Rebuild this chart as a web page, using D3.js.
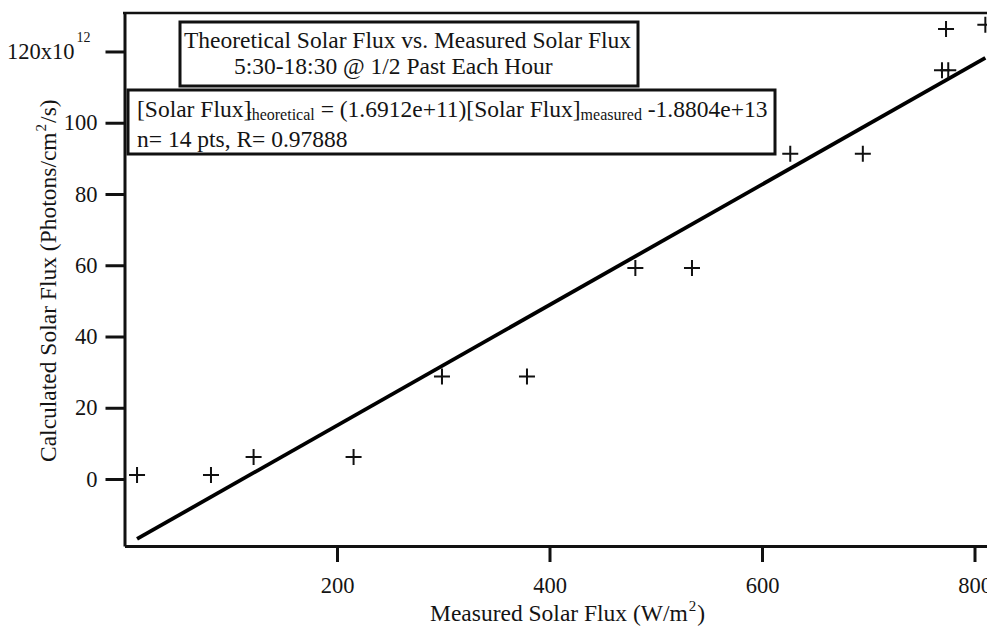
<!DOCTYPE html>
<html>
<head>
<meta charset="utf-8">
<script src="https://cdn.jsdelivr.net/npm/d3@7/dist/d3.min.js"></script>
<style>
  body { margin: 0; background: #fff; }
  svg { display: block; }
  .axis text { font-family: "Liberation Serif", "Times New Roman", serif; font-size: 22.5px; fill: #141414; }
  .axis path, .axis line { stroke: #111; }
</style>
</head>
<body>
<div id="chart"></div>
<script>
// measured solar flux (W/m^2)
const measured = [11.8, 81.4, 121.5, 215.6, 298.8, 378.8, 480.8, 534.1, 626.6, 694.9, 769.4, 775.3, 773.2, 810.2];
// calculated solar flux (x10^12 photons/cm^2/s)
const calculated = [1.1, 1.1, 6.2, 6.2, 28.8, 28.8, 59.2, 59.2, 91.3, 91.3, 114.7, 114.7, 126.3, 127.5];

const xTicks = [200, 400, 600, 800];
const yTicks = [0, 20, 40, 60, 80, 100, 120];

// linear fit from the annotation, in units of 1e12
const fitSlope = 0.16912;
const fitIntercept = -18.804;

const titleLines = ["Theoretical Solar Flux vs. Measured Solar Flux", "5:30-18:30 @ 1/2 Past Each Hour"];
const statsLine = "n= 14 pts, R= 0.97888";

const width = 987, height = 628;
const serif = '"Liberation Serif", "Times New Roman", serif';

const svg = d3.select("#chart").append("svg")
    .attr("width", width)
    .attr("height", height);

//scales
const x = d3.scaleLinear()
    .domain([0, 850])
    .range([124.5, 124.5 + 850 * 1.0625]);

const y = d3.scaleLinear()
    .domain([-18.8, 130.8])
    .range([546, 13]);

// X axis
const xAxis = svg.append("g")
    .attr("class", "axis")
    .attr("transform", `translate(0, ${y.range()[0]})`)
    .call(d3.axisBottom(x).tickValues(xTicks).tickSize(16).tickSizeOuter(0).tickPadding(15));
xAxis.select(".domain").attr("stroke-width", 3);
xAxis.selectAll(".tick line").attr("stroke-width", 3);

// Y axis
const yAxis = svg.append("g")
    .attr("class", "axis")
    .attr("transform", `translate(${x.range()[0]}, 0)`)
    .call(d3.axisLeft(y).tickValues(yTicks).tickSize(19).tickSizeOuter(0).tickPadding(8));
yAxis.select(".domain").attr("stroke-width", 3);
yAxis.selectAll(".tick line").attr("stroke-width", 3);

// top label gets the x10^12 multiplier
yAxis.selectAll(".tick text")
    .filter(d => d === 120)
    .text(null)
    .call(t => {
        t.append("tspan").text("120x10");
        t.append("tspan").attr("dx", 2).attr("dy", -17).style("font-size", "14px").text("12");
    })
    .attr("x", -34);

// top frame line
svg.append("line")
    .attr("x1", x.range()[0] - 1.5)
    .attr("x2", width)
    .attr("y1", y.range()[1])
    .attr("y2", y.range()[1])
    .attr("stroke", "#111")
    .attr("stroke-width", 2.5);

// fit line
const fitX = d3.extent(measured);
svg.append("path")
    .datum(fitX)
    .attr("fill", "none")
    .attr("stroke", "#000")
    .attr("stroke-width", 3.8)
    .attr("d", d3.line().x(d => x(d)).y(d => y(fitSlope * d + fitIntercept)));

// data crosses
svg.selectAll(".pt")
    .data(measured.map((m, i) => [m, calculated[i]]))
    .enter()
    .append("path")
    .attr("class", "pt")
    .attr("transform", d => `translate(${x(d[0])}, ${y(d[1])})`)
    .attr("d", "M-8,0H8M0,-8V8")
    .attr("stroke", "#111")
    .attr("stroke-width", 2);

// axis titles
const xTitle = svg.append("text")
    .attr("x", 430)
    .attr("y", 621)
    .style("font-family", serif)
    .style("font-size", "23.5px")
    .attr("fill", "#141414");
xTitle.append("tspan").text("Measured Solar Flux (W/m");
xTitle.append("tspan").attr("dx", 1).attr("dy", -10).style("font-size", "15px").text("2");
xTitle.append("tspan").attr("dx", 1).attr("dy", 10).text(")");

const yTitle = svg.append("text")
    .attr("transform", "translate(56, 462) rotate(-90)")
    .style("font-family", serif)
    .style("font-size", "23.5px")
    .attr("fill", "#141414");
yTitle.append("tspan").text("Calculated Solar Flux (Photons/cm");
yTitle.append("tspan").attr("dx", 1).attr("dy", -10).style("font-size", "15px").text("2");
yTitle.append("tspan").attr("dx", 1).attr("dy", 10).text("/s)");

// title box
svg.append("rect")
    .attr("x", 180).attr("y", 22)
    .attr("width", 458).attr("height", 64)
    .attr("fill", "#fff")
    .attr("stroke", "#111")
    .attr("stroke-width", 3);

svg.append("text")
    .attr("x", 184).attr("y", 48)
    .style("font-family", serif).style("font-size", "23.5px")
    .attr("fill", "#141414")
    .text(titleLines[0]);
svg.append("text")
    .attr("x", 234).attr("y", 74)
    .style("font-family", serif).style("font-size", "23.5px")
    .attr("fill", "#141414")
    .text(titleLines[1]);

// equation box
svg.append("rect")
    .attr("x", 128).attr("y", 90)
    .attr("width", 647).attr("height", 64)
    .attr("fill", "#fff")
    .attr("stroke", "#111")
    .attr("stroke-width", 3);

const eq = svg.append("text")
    .attr("x", 137).attr("y", 117)
    .style("font-family", serif).style("font-size", "23.5px")
    .attr("fill", "#141414");
eq.append("tspan").text("[Solar Flux]");
eq.append("tspan").attr("dx", -4).attr("dy", 3).style("font-size", "16px").text("theoretical");
eq.append("tspan").attr("dy", -3).text(` = (${d3.format(".4e")(fitSlope * 1e12)})[Solar Flux]`);
eq.append("tspan").attr("dy", 3).style("font-size", "16px").text("measured");
eq.append("tspan").attr("dy", -3).text(` -${d3.format(".4e")(-fitIntercept * 1e12)}`);

svg.append("text")
    .attr("x", 137).attr("y", 147)
    .style("font-family", serif).style("font-size", "23.5px")
    .attr("fill", "#141414")
    .text(statsLine);
</script>
</body>
</html>
